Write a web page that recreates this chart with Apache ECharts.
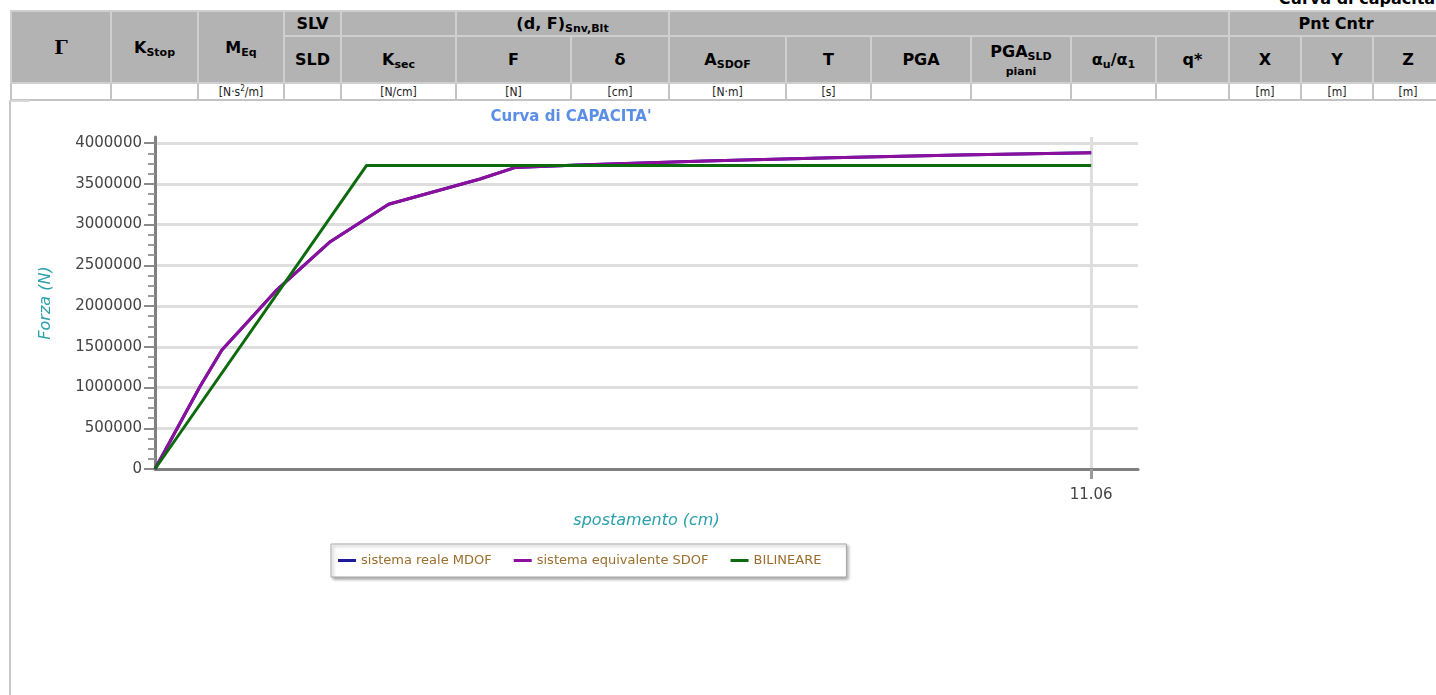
<!DOCTYPE html>
<html>
<head>
<meta charset="utf-8">
<title>Curva di capacita'</title>
<script src="https://cdn.jsdelivr.net/npm/echarts@6/dist/echarts.min.js"></script>
<style>
  html, body { margin: 0; padding: 0; background: #fff; overflow: hidden; }
  body { width: 1436px; height: 695px; position: relative; font-family: "DejaVu Sans", sans-serif; }
  #topTitle {
    position: absolute; right: -4px; top: -11px;
    font: bold 16px "DejaVu Sans", sans-serif; color: #000;
  }
  #hdr {
    position: absolute; left: 10px; top: 10px;
    border-collapse: collapse; table-layout: fixed; width: 1432px;
  }
  #hdr td {
    border: 2px solid #cfcfcf; padding: 0; text-align: center; vertical-align: middle;
    overflow: hidden; white-space: nowrap;
  }
  #hdr tr.h td { background: #b3b3b3; font: bold 16px "DejaVu Sans", sans-serif; color: #000; }
  #hdr tr.u td { background: #fff; font: 12px "DejaVu Sans Condensed", "DejaVu Sans", sans-serif; color: #222; border-color: #c4c4c4; }
  #hdr sub { font-size: 11px; vertical-align: -3px; line-height: 0; }
  #hdr sup { font-size: 8px; vertical-align: 5px; line-height: 0; }
  .gam { font: bold 19px "DejaVu Serif", serif; }
  .piani { display: block; font-size: 11px; margin-top: 4px; }
  #frame {
    position: absolute; left: 9px; top: 100px; width: 18px; height: 595px;
    border-left: 2px solid #c8c8c8; border-top: 2px solid #d8d8d8;
  }
  #chart { position: absolute; left: 0; top: 100px; width: 1436px; height: 595px; }
</style>
</head>
<body>
<div id="topTitle">Curva di capacita'</div>
<table id="hdr">
  <colgroup>
    <col style="width:100px"><col style="width:87px"><col style="width:86px"><col style="width:57px">
    <col style="width:115px"><col style="width:115px"><col style="width:98px"><col style="width:117px">
    <col style="width:85px"><col style="width:100px"><col style="width:100px"><col style="width:85px">
    <col style="width:73px"><col style="width:72px"><col style="width:72px"><col style="width:70px">
  </colgroup>
  <tr class="h" style="height:25px">
    <td rowspan="2"><span class="gam">Γ</span></td>
    <td rowspan="2">K<sub>Stop</sub></td>
    <td rowspan="2">M<sub>Eq</sub></td>
    <td>SLV</td>
    <td></td>
    <td colspan="2">(d, F)<sub>Snv,Blt</sub></td>
    <td colspan="6"></td>
    <td colspan="3">Pnt Cntr</td>
  </tr>
  <tr class="h" style="height:47px">
    <td>SLD</td>
    <td>K<sub>sec</sub></td>
    <td>F</td>
    <td>δ</td>
    <td>A<sub>SDOF</sub></td>
    <td>T</td>
    <td>PGA</td>
    <td>PGA<sub>SLD</sub><span class="piani">piani</span></td>
    <td>α<sub>u</sub>/α<sub>1</sub></td>
    <td>q*</td>
    <td>X</td>
    <td>Y</td>
    <td>Z</td>
  </tr>
  <tr class="u" style="height:17px">
    <td></td><td></td><td>[N·s<sup>2</sup>/m]</td><td></td>
    <td>[N/cm]</td><td>[N]</td><td>[cm]</td><td>[N·m]</td>
    <td>[s]</td><td></td><td></td><td></td><td></td>
    <td>[m]</td><td>[m]</td><td>[m]</td>
  </tr>
</table>
<div id="frame"></div>
<div id="chart"></div>
<script>
// spostamento (cm) / forza (N)
const SPOST_SDOF = [0, 0.53, 0.79, 1.08, 1.44, 2.07, 2.76, 3.84, 4.25, 5.0, 6.5, 8.0, 9.5, 11.06];
const FORZA_SDOF = [0, 1010000, 1460000, 1790000, 2200000, 2790000, 3250000, 3560000, 3700000, 3730000, 3780000, 3820000, 3855000, 3881000];
// sistema reale: coincide con l'equivalente (Gamma = 1)
const SPOST_MDOF = SPOST_SDOF.slice();
const FORZA_MDOF = FORZA_SDOF.slice();
// bilineare
const SPOST_BIL = [0, 2.50, 11.06];
const FORZA_BIL = [0, 3726000, 3726000];

const Y_TICKS = [0, 500000, 1000000, 1500000, 2000000, 2500000, 3000000, 3500000, 4000000];
const X_TICKS = [11.06];
const X_MAX = 11.06 * 1.05;
const Y_MAX = 3881000 * 1.05;

const LEGEND = ['sistema reale MDOF', 'sistema equivalente SDOF', 'BILINEARE'];

const pairs = (xs, ys) => xs.map((x, i) => [x, ys[i]]);

const chart = echarts.init(document.getElementById('chart'));

const option = {
  animation: false,
  textStyle: { fontFamily: 'DejaVu Sans' },
  title: {
    text: "Curva di CAPACITA'",
    left: 566,
    top: 5,
    textAlign: 'center',
    textStyle: { color: '#5b8ee6', fontSize: 15, fontWeight: 'bold', fontFamily: 'DejaVu Sans' },
  },
  grid: {
    left: 155,
    top: 37,
    width: 983,
    height: 332,
  },
  legend: {
    data: LEGEND,
    left: 331,
    top: 444,
    padding: [10, 25, 10, 7],
    itemGap: 22,
    itemWidth: 18,
    itemHeight: 3,
    icon: 'rect',
    borderColor: '#a8a8a8',
    borderWidth: 1,
    backgroundColor: '#fff',
    shadowColor: 'rgba(0,0,0,0.35)',
    shadowBlur: 3,
    shadowOffsetX: 2,
    shadowOffsetY: 2,
    textStyle: { color: '#9a6e2c', fontSize: 13, fontFamily: 'DejaVu Sans' },
  },
  xAxis: {
    type: 'value',
    min: 0,
    max: X_MAX,
    name: 'spostamento (cm)',
    nameLocation: 'middle',
    nameGap: 44,
    nameTextStyle: { color: '#2aa0aa', fontStyle: 'italic', fontSize: 16 },
    axisLine: { show: true, onZero: false, lineStyle: { color: '#7f7f7f', width: 3 } },
    axisTick: { show: true, customValues: X_TICKS, length: 10, lineStyle: { color: '#9a9a9a', width: 3 } },
    axisLabel: {
      customValues: X_TICKS,
      color: '#444',
      fontSize: 15,
      margin: 19,
      formatter: (v) => v.toFixed(2),
    },
    splitLine: { show: true, showMinLine: true, showMaxLine: true, lineStyle: { color: '#dedede', width: 3 } },
  },
  yAxis: {
    type: 'value',
    min: 0,
    max: Y_MAX,
    interval: 500000,
    name: 'Forza (N)',
    nameLocation: 'middle',
    nameGap: 101,
    nameTextStyle: { color: '#2aa0aa', fontStyle: 'italic', fontSize: 16 },
    axisLine: { show: true, lineStyle: { color: '#7f7f7f', width: 3 } },
    axisTick: { show: true, customValues: Y_TICKS, length: 11, lineStyle: { color: '#8a8a8a', width: 2 } },
    minorTick: { show: true, splitNumber: 4, length: 7, lineStyle: { color: '#9a9a9a', width: 2 } },
    axisLabel: {
      customValues: Y_TICKS,
      color: '#444',
      fontSize: 15,
      margin: 13,
      formatter: (v) => String(v),
    },
    splitLine: { show: true, showMinLine: true, showMaxLine: true, lineStyle: { color: '#dedede', width: 3 } },
  },
  series: [
    {
      name: LEGEND[0],
      type: 'line',
      data: pairs(SPOST_MDOF, FORZA_MDOF),
      showSymbol: false,
      color: '#1c1c9c',
      lineStyle: { width: 3 },
      z: 2,
    },
    {
      name: LEGEND[1],
      type: 'line',
      data: pairs(SPOST_SDOF, FORZA_SDOF),
      showSymbol: false,
      color: '#8c0f9e',
      lineStyle: { width: 3 },
      z: 3,
    },
    {
      name: LEGEND[2],
      type: 'line',
      data: pairs(SPOST_BIL, FORZA_BIL),
      showSymbol: false,
      color: '#0d6b0d',
      lineStyle: { width: 3 },
      z: 4,
    },
  ],
};

chart.setOption(option);
</script>
</body>
</html>
